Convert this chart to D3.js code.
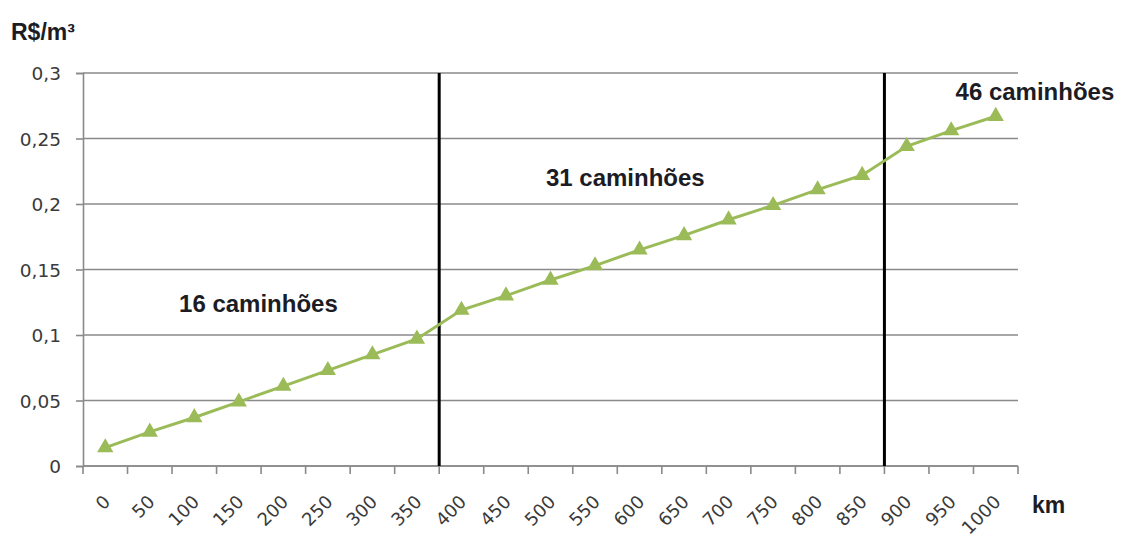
<!DOCTYPE html>
<html>
<head>
<meta charset="utf-8">
<script src="https://cdn.jsdelivr.net/npm/d3@7"></script>
<style>
  html, body { margin: 0; padding: 0; background: #fff; }
  svg { display: block; }
</style>
</head>
<body>
<svg id="chart" width="1122" height="537"></svg>
<script>
// Distance categories (km) and freight cost per m³ (R$/m³)
const distances = ["0","50","100","150","200","250","300","350","400","450","500","550","600","650","700","750","800","850","900","950","1000"];
const costs = [0.014, 0.026, 0.037, 0.049, 0.061, 0.073, 0.085, 0.097, 0.119, 0.130, 0.142, 0.153, 0.165, 0.176, 0.188, 0.199, 0.211, 0.222, 0.244, 0.256, 0.267];
const yTicks = [0, 0.05, 0.1, 0.15, 0.2, 0.25, 0.3];
const yTickLabels = ["0", "0,05", "0,1", "0,15", "0,2", "0,25", "0,3"];
// Fleet-size breaks: each boundary sits just before the listed category
const breaks = ["400", "900"];
// Fleet-size captions, placed at a distance (km) and cost (baseline)
const fleetLabels = [
  { text: "16 caminhões", km: 172, value: 0.1176 },
  { text: "31 caminhões", km: 584, value: 0.2137 },
  { text: "46 caminhões", km: 1044, value: 0.2794 }
];

const svg = d3.select("#chart");
const plotLeft = 83, plotRight = 1018, plotTop = 73, plotBottom = 466;

const x = d3.scaleBand().domain(distances).range([plotLeft, plotRight]).paddingInner(0).paddingOuter(0);
// Continuous km scale aligned with the band centres, for free-floating captions
const xKm = d3.scaleLinear().domain([-25, 1025]).range([plotLeft, plotRight]);
const y = d3.scaleLinear().domain([0, 0.3]).range([plotBottom, plotTop]);
const cx = d => x(d) + x.bandwidth() / 2;

const grey = "#8a8a8a";
const tickFont = "'DejaVu Sans', 'Open Sans', sans-serif";
const boldFont = "'Liberation Sans', Arial, sans-serif";

// Horizontal gridlines
svg.append("g").selectAll("line").data(yTicks).join("line")
  .attr("x1", plotLeft).attr("x2", plotRight)
  .attr("y1", d => y(d)).attr("y2", d => y(d))
  .attr("stroke", grey).attr("stroke-width", 1.6);

// Y axis
const yAxis = d3.axisLeft(y).tickValues(yTicks).tickSize(7)
  .tickFormat((d, i) => yTickLabels[i]);
const gy = svg.append("g").attr("transform", `translate(${plotLeft},0)`).call(yAxis);
gy.select(".domain").attr("stroke", grey).attr("stroke-width", 1.6);
gy.selectAll(".tick line").attr("stroke", grey).attr("stroke-width", 1.6);
gy.selectAll(".tick text")
  .attr("x", -22)
  .attr("dy", "0.36em")
  .attr("fill", "#3a3a3a")
  .style("font-family", tickFont)
  .style("font-size", "18.5px");

// X axis: ticks at category boundaries
const boundaries = distances.map(d => x(d)).concat([plotRight]);
svg.append("line")
  .attr("x1", plotLeft).attr("x2", plotRight).attr("y1", plotBottom).attr("y2", plotBottom)
  .attr("stroke", grey).attr("stroke-width", 1.6);
svg.append("g").selectAll("line").data(boundaries).join("line")
  .attr("x1", d => d).attr("x2", d => d)
  .attr("y1", plotBottom).attr("y2", plotBottom + 8)
  .attr("stroke", grey).attr("stroke-width", 1.6);

svg.append("g").selectAll("text").data(distances).join("text")
  .attr("transform", d => `translate(${cx(d) + 6},${plotBottom + 37}) rotate(-45)`)
  .attr("text-anchor", "end")
  .attr("fill", "#3a3a3a")
  .style("font-family", tickFont)
  .style("font-size", "18px")
  .text(d => d);

// Fleet-size boundary lines
svg.append("g").selectAll("line").data(breaks).join("line")
  .attr("x1", d => x(d)).attr("x2", d => x(d))
  .attr("y1", plotTop).attr("y2", plotBottom)
  .attr("stroke", "#000").attr("stroke-width", 3);

// Cost line
const green = "#9bbb59";
const line = d3.line().x((d, i) => cx(distances[i])).y(d => y(d));
svg.append("path").datum(costs)
  .attr("d", line)
  .attr("fill", "none")
  .attr("stroke", green)
  .attr("stroke-width", 3);

// Triangle markers
const tri = d3.symbol().type(d3.symbolTriangle).size(115);
svg.append("g").selectAll("path").data(costs).join("path")
  .attr("transform", (d, i) => `translate(${cx(distances[i])},${y(d)})`)
  .attr("d", tri)
  .attr("fill", green);

// Fleet-size captions
svg.append("g").selectAll("text").data(fleetLabels).join("text")
  .attr("x", d => xKm(d.km))
  .attr("y", d => y(d.value))
  .attr("text-anchor", "middle")
  .attr("fill", "#1c1c24")
  .style("font-family", boldFont)
  .style("font-weight", "bold")
  .style("font-size", "24px")
  .text(d => d.text);

// Axis titles
svg.append("text")
  .attr("x", 11).attr("y", 40)
  .attr("fill", "#1c1c24")
  .style("font-family", boldFont).style("font-weight", "bold").style("font-size", "23px")
  .text("R$/m³");
svg.append("text")
  .attr("x", 1032).attr("y", 513)
  .attr("fill", "#1c1c24")
  .style("font-family", boldFont).style("font-weight", "bold").style("font-size", "23px")
  .text("km");
</script>
</body>
</html>
